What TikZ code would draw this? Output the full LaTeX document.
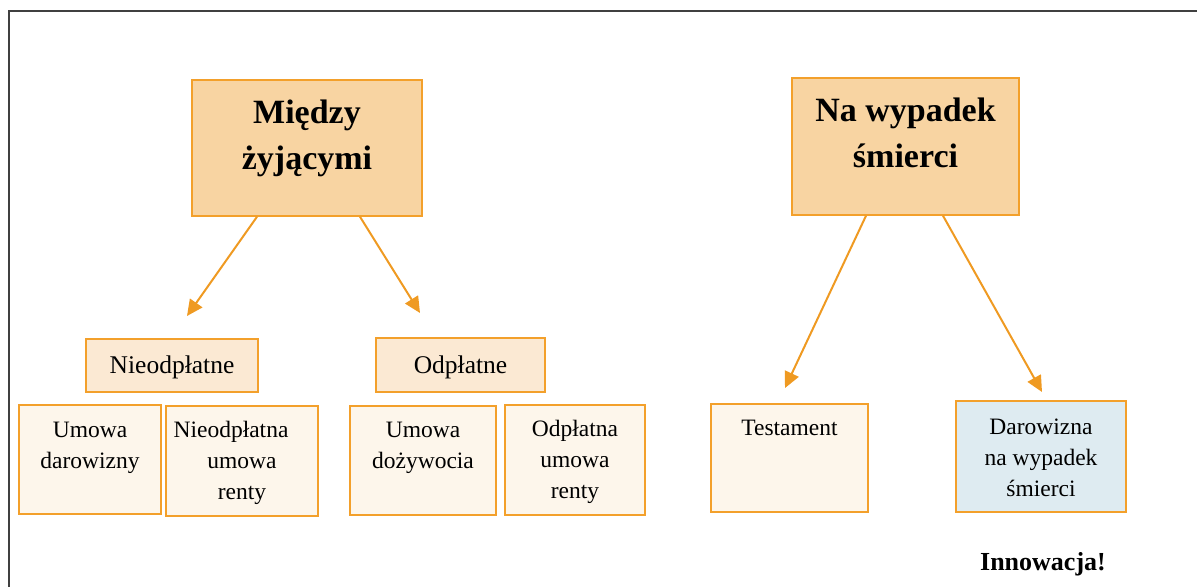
\documentclass[tikz,border=0pt]{standalone}
\usepackage{fontspec}
\setmainfont{Liberation Serif}
\usetikzlibrary{arrows.meta}

\definecolor{frameline}{HTML}{404040}
\definecolor{edge}{HTML}{F3A02B}
\definecolor{arrowcol}{HTML}{EF9A22}
\definecolor{topfill}{HTML}{F8D4A2}
\definecolor{midfill}{HTML}{FBE9D3}
\definecolor{leaffill}{HTML}{FDF6EB}
\definecolor{newfill}{HTML}{DEEBF1}

% multi-line texts are placed by the baseline of their last line
\tikzset{
  box/.style={draw=edge, line width=1.5pt, rectangle, inner sep=0pt},
  topbox/.style={box, fill=topfill},
  midbox/.style={box, fill=midfill},
  leafbox/.style={box, fill=leaffill},
  newbox/.style={box, fill=newfill},
  headtxt/.style={anchor=base, inner sep=0pt, align=center,
    font=\fontsize{34}{46}\selectfont\bfseries},
  midtxt/.style={anchor=base, inner sep=0pt, align=center,
    font=\fontsize{25.5}{31}\selectfont},
  leaftxt/.style={anchor=base, inner sep=0pt, align=center,
    font=\fontsize{23.5}{31}\selectfont},
  link/.style={draw=arrowcol, line width=2pt,
    -{Triangle[length=16pt,width=15pt]}},
}

\begin{document}
\begin{tikzpicture}[x=1pt,y=-1pt]
\useasboundingbox (0,0) rectangle (1197,587);

% outer frame (top and left edges only)
\draw[frameline, line width=2pt] (1197,11) -- (9,11) -- (9,587);

% top level categories
\node[topbox, minimum width=230pt, minimum height=136pt] (inter) at (307,148) {};
\node[headtxt] (interT) at (307,169) {Między\\żyjącymi};
\node[topbox, minimum width=227pt, minimum height=137pt] (mortis) at (905.5,146.5) {};
\node[headtxt] (mortisT) at (905.5,167) {Na wypadek\\śmierci};

% second level
\node[midbox, minimum width=172pt, minimum height=53pt] (free) at (172,365.5) {};
\node[midtxt] (freeT) at (172,373) {Nieodpłatne};
\node[midbox, minimum width=169pt, minimum height=54pt] (paid) at (460.5,365) {};
\node[midtxt] (paidT) at (460.5,373) {Odpłatne};

% leaves under "Nieodpłatne"
\node[leafbox, minimum width=142pt, minimum height=109pt] (gift) at (90,459.5) {};
\node[leaftxt] (giftT) at (90,468) {Umowa\\darowizny};
\node[leafbox, minimum width=152pt, minimum height=110pt] (freerent) at (242,461) {};
\node[leaftxt] (freerentT) at (242,499) {Nieodpłatna\hspace*{22pt}\\umowa\\renty};

% leaves under "Odpłatne"
\node[leafbox, minimum width=146pt, minimum height=109pt] (life) at (423,460.5) {};
\node[leaftxt] (lifeT) at (423,468) {Umowa\\dożywocia};
\node[leafbox, minimum width=140pt, minimum height=110pt] (paidrent) at (575,460) {};
\node[leaftxt] (paidrentT) at (575,498) {Odpłatna\\umowa\\renty};

% leaves under "Na wypadek śmierci"
\node[leafbox, minimum width=157pt, minimum height=108pt] (will) at (789.5,458) {};
\node[leaftxt] (willT) at (789.5,435) {Testament};
\node[newbox, minimum width=170pt, minimum height=111pt] (mgift) at (1041,456.5) {};
\node[leaftxt] (mgiftT) at (1041,496) {Darowizna\\na wypadek\\śmierci};

\node[anchor=base, inner sep=0pt, font=\fontsize{26}{31}\selectfont\bfseries]
  (novel) at (1043,570) {Innowacja!};

% free ends of the connectors
\coordinate (tipA) at (187,316);
\coordinate (tipB) at (420,313);
\coordinate (tipC) at (785,388);
\coordinate (tipD) at (1042,392);

\draw[link] (inter.south -| 257,0) -- (tipA);
\draw[link] (inter.south -| 360,0) -- (tipB);
\draw[link] (mortis.south -| 866,0) -- (tipC);
\draw[link] (mortis.south -| 943,0) -- (tipD);
\end{tikzpicture}
\end{document}
